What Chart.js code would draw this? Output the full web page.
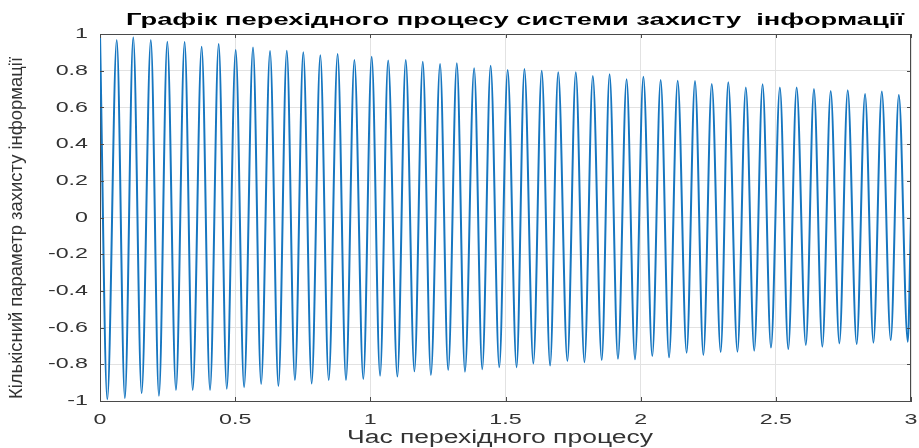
<!DOCTYPE html>
<html lang="uk">
<head>
<meta charset="utf-8">
<title>Графік перехідного процесу системи захисту інформації</title>
<script src="https://cdn.jsdelivr.net/npm/chart.js@4/dist/chart.umd.min.js"></script>
<style>
  html, body { margin: 0; padding: 0; background: #ffffff; }
  #wrap { width: 919px; height: 448px; }
</style>
</head>
<body>
<div id="wrap"><canvas id="chart" width="919" height="448"></canvas></div>
<script>
// Extrema of the transient response (time, value), start and end points included
const times = [0, 0.027, 0.062, 0.092, 0.123, 0.154, 0.188, 0.218, 0.249, 0.281,
  0.313, 0.343, 0.376, 0.407, 0.439, 0.469, 0.502, 0.533, 0.566, 0.596,
  0.629, 0.660, 0.691, 0.721, 0.752, 0.783, 0.815, 0.846, 0.879, 0.910,
  0.941, 0.974, 1.005, 1.036, 1.066, 1.100, 1.131, 1.163, 1.194, 1.224,
  1.258, 1.288, 1.320, 1.350, 1.384, 1.414, 1.445, 1.477, 1.508, 1.541,
  1.570, 1.603, 1.634, 1.665, 1.695, 1.729, 1.760, 1.792, 1.823, 1.856,
  1.885, 1.916, 1.948, 1.979, 2.010, 2.043, 2.074, 2.105, 2.137, 2.170,
  2.201, 2.232, 2.263, 2.296, 2.324, 2.358, 2.389, 2.420, 2.451, 2.482,
  2.515, 2.546, 2.577, 2.611, 2.641, 2.672, 2.703, 2.735, 2.766, 2.799,
  2.830, 2.861, 2.892, 2.925, 2.955, 2.988, 3.000];

const values = [1.0, -0.991, 0.967, -0.985, 0.982, -0.958, 0.967, -0.971, 0.958, -0.94,
  0.956, -0.94, 0.931, -0.94, 0.945, -0.933, 0.913, -0.925, 0.927, -0.907,
  0.907, -0.918, 0.909, -0.886, 0.9, -0.904, 0.884, -0.886, 0.891, -0.886,
  0.858, -0.88, 0.876, -0.862, 0.855, -0.867, 0.858, -0.838, 0.849, -0.858,
  0.837, -0.831, 0.84, -0.84, 0.813, -0.827, 0.827, -0.816, 0.804, -0.816,
  0.809, -0.795, 0.8, -0.807, 0.791, -0.782, 0.791, -0.789, 0.771, -0.777,
  0.78, -0.77, 0.753, -0.773, 0.767, -0.755, 0.749, -0.762, 0.745, -0.737,
  0.744, -0.749, 0.728, -0.733, 0.737, -0.731, 0.709, -0.726, 0.726, -0.709,
  0.708, -0.717, 0.708, -0.695, 0.7, -0.704, 0.689, -0.686, 0.693, -0.689,
  0.673, -0.682, 0.686, -0.668, 0.668, -0.677, 0.0];

const xTickValues = [0, 0.5, 1, 1.5, 2, 2.5, 3];
const xTickLabels = ['0', '0.5', '1', '1.5', '2', '2.5', '3'];
const yTickValues = [-1, -0.8, -0.6, -0.4, -0.2, 0, 0.2, 0.4, 0.6, 0.8, 1];
const yTickLabels = ['-1', '-0.8', '-0.6', '-0.4', '-0.2', '0', '0.2', '0.4', '0.6', '0.8', '1'];

const titleText = 'Графік перехідного процесу системи захисту  інформації';
const xTitleText = 'Час перехідного процесу';
const yTitleText = 'Кількісний параметр захисту інформації';

const points = times.map((t, i) => ({ x: t, y: values[i] }));

const AXIS_COLOR = '#4a4a4a';
const TEXT_COLOR = '#333333';

// Draws a string stretched along its own direction to a given length
function stretchedText(ctx, text, font, x, y, length, rotate, align) {
  ctx.save();
  ctx.font = font;
  const w = ctx.measureText(text).width;
  ctx.translate(x, y);
  if (rotate) ctx.rotate(-Math.PI / 2);
  ctx.scale(length / w, 1);
  ctx.textAlign = align || 'center';
  ctx.textBaseline = 'alphabetic';
  ctx.fillText(text, 0, 0);
  ctx.restore();
}

function scaledLabel(ctx, text, font, x, y, sx, align, baseline) {
  ctx.save();
  ctx.font = font;
  ctx.translate(x, y);
  ctx.scale(sx, 1);
  ctx.textAlign = align;
  ctx.textBaseline = baseline;
  ctx.fillText(text, 0, 0);
  ctx.restore();
}

const frame = {
  id: 'frame',
  afterDraw(chart) {
    const { ctx, chartArea: a, scales } = chart;
    const xs = scales.x, ys = scales.y;

    // box and inward tick marks
    ctx.save();
    ctx.strokeStyle = AXIS_COLOR;
    ctx.lineWidth = 1;
    ctx.beginPath();
    ctx.moveTo(a.left, a.top + 0.5); ctx.lineTo(a.right, a.top + 0.5);
    ctx.moveTo(a.right - 0.5, a.top); ctx.lineTo(a.right - 0.5, a.bottom);
    const tl = 4;
    xTickValues.forEach(v => {
      const px = Math.round(xs.getPixelForValue(v)) + 0.5;
      ctx.moveTo(px, a.bottom); ctx.lineTo(px, a.bottom - tl);
      ctx.moveTo(px, a.top); ctx.lineTo(px, a.top + tl);
    });
    yTickValues.forEach(v => {
      const py = Math.round(ys.getPixelForValue(v)) + 0.5;
      ctx.moveTo(a.left, py); ctx.lineTo(a.left + tl, py);
      ctx.moveTo(a.right, py); ctx.lineTo(a.right - tl, py);
    });
    ctx.stroke();
    ctx.restore();

    ctx.save();
    ctx.fillStyle = TEXT_COLOR;
    const tickFont = '15px "Liberation Sans", Arial, sans-serif';
    xTickValues.forEach((v, i) => {
      scaledLabel(ctx, xTickLabels[i], tickFont, xs.getPixelForValue(v), 424, 1.55, 'center', 'alphabetic');
    });
    yTickValues.forEach((v, i) => {
      scaledLabel(ctx, yTickLabels[i], tickFont, 88, ys.getPixelForValue(v), 1.55, 'right', 'middle');
    });

    ctx.fillStyle = '#000000';
    stretchedText(ctx, titleText, 'bold 17px "Liberation Sans", Arial, sans-serif', 515, 25, 778, false);
    ctx.fillStyle = TEXT_COLOR;
    stretchedText(ctx, xTitleText, '18px "Liberation Sans", Arial, sans-serif', 500, 443, 306, false);
    stretchedText(ctx, yTitleText, '18px "Liberation Sans Narrow", "Liberation Sans", Arial, sans-serif', 22, 228, 342, true);
    ctx.restore();
  }
};

new Chart(document.getElementById('chart'), {
  type: 'line',
  data: {
    datasets: [{
      data: points,
      borderColor: 'rgb(22, 118, 192)',
      borderWidth: 2,
      pointRadius: 0,
      cubicInterpolationMode: 'monotone',
      fill: false
    }]
  },
  options: {
    responsive: false,
    animation: false,
    layout: { padding: { left: 100, right: 8, top: 34, bottom: 47 } },
    plugins: {
      legend: { display: false },
      tooltip: { enabled: false },
      title: { display: false }
    },
    scales: {
      x: {
        type: 'linear', min: 0, max: 3,
        ticks: { display: false, stepSize: 0.5 },
        grid: { color: '#e2e2e2', drawTicks: false },
        border: { color: AXIS_COLOR, width: 1 }
      },
      y: {
        type: 'linear', min: -1, max: 1,
        ticks: { display: false, stepSize: 0.2 },
        grid: { color: '#e2e2e2', drawTicks: false },
        border: { color: AXIS_COLOR, width: 1 }
      }
    }
  },
  plugins: [frame]
});
</script>
</body>
</html>
